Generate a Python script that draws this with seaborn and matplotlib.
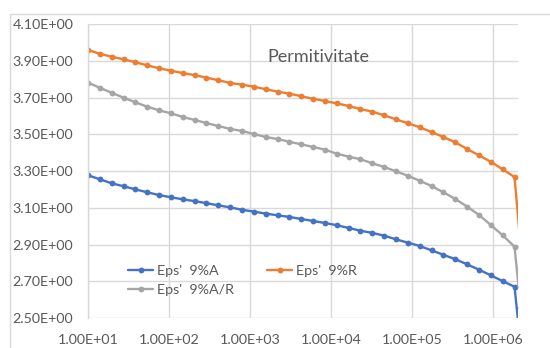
import numpy as np
import pandas as pd
import matplotlib
matplotlib.use("Agg")
import matplotlib.pyplot as plt
from matplotlib.patches import Rectangle
from matplotlib.ticker import FixedLocator, FuncFormatter, NullLocator
import seaborn as sns

# Date (frecventa in Hz, permitivitatea relativa)
frecventa = [10, 14.0, 19.6, 27.5, 38.5, 53.9, 75.5, 106, 148, 207, 290, 407,
             570, 798, 1117, 1565, 2192, 3070, 4299, 6021, 8433, 11811, 16541,
             23168, 32446, 45443, 63647, 89142, 124846, 174862, 244906, 343005,
             480403, 672834, 942365, 1319870, 1848590, 2200000]

eps_9A = [3.277, 3.255, 3.233, 3.217, 3.200, 3.184, 3.169, 3.157, 3.146, 3.136,
          3.125, 3.113, 3.102, 3.089, 3.079, 3.068, 3.059, 3.050, 3.039, 3.028,
          3.017, 3.005, 2.990, 2.975, 2.963, 2.948, 2.928, 2.910, 2.892, 2.868,
          2.844, 2.820, 2.792, 2.763, 2.732, 2.701, 2.670, 2.350]

eps_9R = [3.959, 3.938, 3.922, 3.908, 3.892, 3.875, 3.859, 3.846, 3.833, 3.822,
          3.808, 3.794, 3.779, 3.770, 3.759, 3.745, 3.732, 3.721, 3.707, 3.693,
          3.681, 3.668, 3.654, 3.637, 3.623, 3.603, 3.581, 3.560, 3.538, 3.512,
          3.485, 3.456, 3.420, 3.385, 3.350, 3.309, 3.267, 2.890]

eps_9AR = [3.781, 3.753, 3.726, 3.699, 3.674, 3.650, 3.630, 3.614, 3.594, 3.578,
           3.561, 3.545, 3.529, 3.518, 3.501, 3.485, 3.474, 3.459, 3.445, 3.431,
           3.416, 3.394, 3.378, 3.364, 3.342, 3.322, 3.298, 3.274, 3.247, 3.218,
           3.184, 3.148, 3.106, 3.061, 3.006, 2.950, 2.888, 2.560]

serii = ["Eps'  9%A", "Eps'  9%R", "Eps'  9%A/R"]
culori = ["#4472C4", "#ED7D31", "#A5A5A5"]
x_ticks = [1e1, 1e2, 1e3, 1e4, 1e5, 1e6]
y_ticks = [2.5, 2.7, 2.9, 3.1, 3.3, 3.5, 3.7, 3.9, 4.1]

sns.set_theme(style="white")
plt.rcParams['font.family'] = ['Lato', 'DejaVu Sans']

fig = plt.figure(figsize=(5.5, 3.48), dpi=100)
ax = fig.add_axes([0.16, 0.0862, 0.7818, 0.8448])

for nume, valori, culoare in zip(serii, [eps_9A, eps_9R, eps_9AR], culori):
    df = pd.DataFrame({"f": frecventa, "eps": valori})
    sns.lineplot(data=df, x="f", y="eps", ax=ax, color=culoare, label=nume,
                 marker="o", markersize=4.2, markeredgewidth=0,
                 linewidth=1.7)

ax.set_xscale("log")
ax.set_xlim(10, 2.04e6)
ax.set_ylim(2.5, 4.1)
ax.xaxis.set_major_locator(FixedLocator(x_ticks))
ax.xaxis.set_minor_locator(NullLocator())
ax.yaxis.set_major_locator(FixedLocator(y_ticks))
ax.xaxis.set_major_formatter(FuncFormatter(lambda v, p: f"{v:.2E}"))
ax.yaxis.set_major_formatter(FuncFormatter(lambda v, p: f"{v:.2E}"))
ax.set_xlabel("")
ax.set_ylabel("")

ax.grid(True, color="#d9d9d9", linewidth=1)
for s in ["top", "right", "bottom"]:
    ax.spines[s].set_visible(False)
ax.spines["left"].set_color("#d9d9d9")
ax.spines["left"].set_linewidth(1)
ax.tick_params(axis="both", length=0, labelsize=10.3, colors="#595959")
ax.tick_params(axis="y", pad=10.5)
ax.tick_params(axis="x", pad=11.5)

ax.text(0.535, 0.888, "Permitivitate", transform=ax.transAxes, ha="center",
        va="center", fontsize=13, color="#595959")

# ordinea din legenda: coloana 1 -> 9%A, 9%A/R ; coloana 2 -> 9%R
handles, labels = ax.get_legend_handles_labels()
ordine = [0, 2, 1]
ax.legend([handles[i] for i in ordine], [labels[i] for i in ordine],
          loc="upper left", bbox_to_anchor=(0.094, 0.182), ncol=2,
          frameon=False, fontsize=10.3, borderpad=0, borderaxespad=0,
          handlelength=1.75, handletextpad=0.28, columnspacing=2.3,
          labelspacing=0.5, labelcolor="#595959")

# chenarul zonei graficului
fig.add_artist(Rectangle((9.5 / 550, -0.1), 1.2, (348 - 13.5) / 348 + 0.1,
                         transform=fig.transFigure, fill=False,
                         edgecolor="#d9d9d9", linewidth=1))

fig.savefig("out.png", dpi=100)
